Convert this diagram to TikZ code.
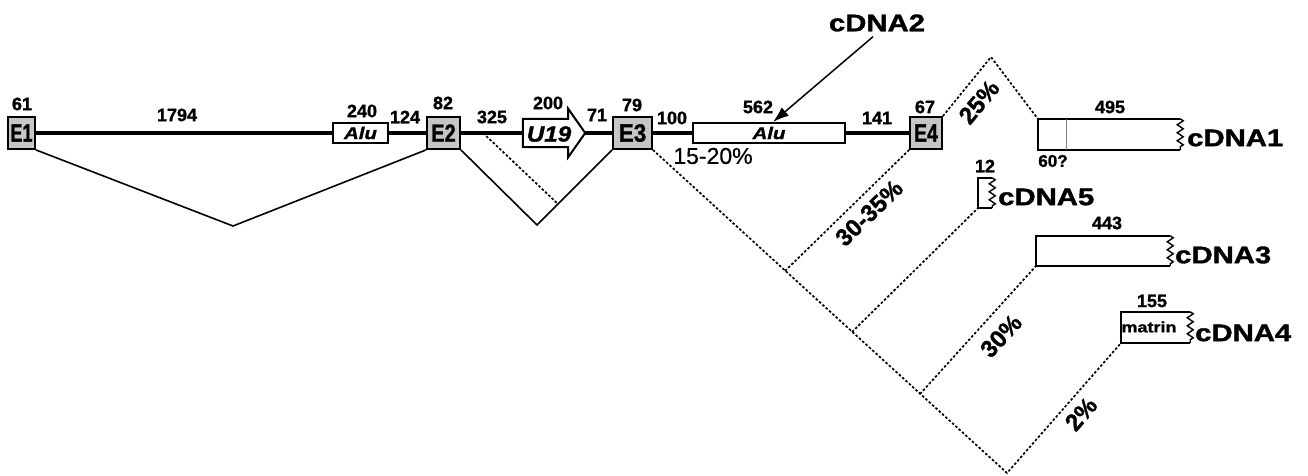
\documentclass[tikz,border=0pt]{standalone}
\usepackage{fontspec}
\setmainfont{Liberation Sans}[BoldFeatures={FakeBold=1.3},BoldItalicFeatures={FakeBold=1.3},UprightFeatures={FakeBold=0.5}]
\usetikzlibrary{arrows.meta,decorations.pathmorphing,calc}
\tikzset{
  num/.style={font=\fontsize{18}{18}\selectfont\bfseries, inner sep=0pt},
  exon/.style={draw, line width=1.8pt, fill=gray!45, inner sep=0pt, font=\fontsize{25}{25}\selectfont\bfseries},
  ibox/.style={draw, line width=2pt, fill=white, inner sep=0pt},
  cbox/.style={draw=none, inner sep=0pt},
  intron/.style={line width=4pt},
  splice/.style={line width=1.6pt},
  dots/.style={line width=1.7pt, dash pattern=on 2.5pt off 2pt},
  big/.style={font=\fontsize{24}{24}\selectfont\bfseries, inner sep=0pt},
  pct/.style={font=\fontsize{24}{24}\selectfont\bfseries, inner sep=0pt},
  jag/.style={decorate, decoration={zigzag, segment length=8pt, amplitude=3pt}, line width=1.4pt},
}
\newcommand\jagbox[1]{%
  \draw[line width=2pt] (#1.north east) -- (#1.north west) -- (#1.south west) -- (#1.south east);
  \draw[jag] (#1.north east) -- (#1.south east);}
\newcommand\widetext[2]{\scalebox{#1}[1]{#2}}
\begin{document}
\begin{tikzpicture}[x=1pt,y=-1pt]
\useasboundingbox[fill=white] (0,0) rectangle (1308,476);

% gene boxes
\node[exon, minimum width=27, minimum height=32] (E1) at (21.5,133) {\widetext{0.72}{E1}};
\node[ibox, minimum width=55, minimum height=20, font=\fontsize{17}{17}\selectfont\bfseries\itshape] (alu1) at (360.5,133) {\widetext{1.2}{Alu}};
\node[exon, minimum width=33, minimum height=32] (E2) at (443.5,133) {\widetext{0.8}{E2}};
\node[cbox, minimum width=62, minimum height=28] (u19) at (554,133) {};
\node[exon, minimum width=39, minimum height=32] (E3) at (632.5,133) {\widetext{0.9}{E3}};
\node[ibox, minimum width=152, minimum height=20, font=\fontsize{17}{17}\selectfont\bfseries\itshape] (alu2) at (769,133) {\widetext{1.2}{Alu}};
\node[exon, minimum width=32, minimum height=32] (E4) at (926,133) {\widetext{0.78}{E4}};

% intron line
\draw[intron] (E1.east) -- (alu1.west);
\draw[intron] (alu1.east) -- (E2.west);
\draw[intron] (E2.east) -- (u19.west);
\draw[intron] (u19.east) -- (E3.west);
\draw[intron] (E3.east) -- (alu2.west);
\draw[intron] (alu2.east) -- (E4.west);

% U19 arrow
\draw[line width=2pt, fill=white, line join=miter]
  (u19.north west) -- ($(u19.north east)+(-17,0)$) -- ++(0,-10) -- (u19.east)
  -- ($(u19.south east)+(-17,10)$) -- ++(0,-10) -- (u19.south west) -- cycle;
\node[font=\fontsize{22}{22}\selectfont\bfseries\itshape, inner sep=0pt] (u19t) at (549,134) {\widetext{1.1}{U19}};

% splicing lines
\coordinate (v1) at (233,226);
\coordinate (v2) at (537,225);
\draw[splice] (E1.south east) -- (v1) -- (E2.south west);
\draw[splice] (E2.south east) -- (v2) -- (E3.south west);
\coordinate (d0) at (483,133);
\coordinate (d1) at (558,204);
\draw[dots] (d0) -- (d1);

% cDNA boxes
\node[cbox, minimum width=142, minimum height=31] (c1) at (1109,134.5) {};
\jagbox{c1}
\draw[gray, line width=1pt] ($(c1.north west)+(29,0)$) -- ($(c1.south west)+(29,0)$);
\node[cbox, minimum width=14, minimum height=30] (c5) at (985,193) {};
\jagbox{c5}
\node[cbox, minimum width=134, minimum height=30] (c3) at (1103,251) {};
\jagbox{c3}
\node[cbox, minimum width=69, minimum height=31] (c4) at (1155.5,327.5) {};
\jagbox{c4}
\node[font=\fontsize{15}{15}\selectfont\bfseries, inner sep=0pt] (matrin) at (1149,327) {\widetext{1.2}{matrin}};

% dotted splice paths
\coordinate (peak) at (991,57);
\coordinate (b1) at (785,271);
\coordinate (b2) at (852,332);
\coordinate (b3) at (920,394);
\coordinate (bot) at (1007,473);
\draw[dots] (E3.south east) -- (bot) -- (c4.south west);
\draw[dots] (b1) -- (E4.south west);
\draw[dots] (b2) -- (c5.south west);
\draw[dots] (b3) -- (c3.south west);
\draw[dots] (E4.north east) -- (peak) -- (c1.north west);

% percentages
\node[pct, rotate=50] (p25) at (979,102) {25\%};
\node[pct, rotate=44] (p3035) at (869,213) {30-35\%};
\node[pct, rotate=47] (p30) at (1001,336) {30\%};
\node[pct, rotate=49] (p2) at (1081,414) {2\%};
\node[font=\fontsize{23}{23}\selectfont, inner sep=0pt] (p1520) at (713,156) {15-20\%};

% numbers
\node[num] (n61) at (22,104) {61};
\node[num] (n1794) at (177,115) {1794};
\node[num] (n240) at (362,111) {240};
\node[num] (n124) at (405,117) {124};
\node[num] (n82) at (443,103) {82};
\node[num] (n325) at (492,117) {325};
\node[num] (n200) at (548,103) {200};
\node[num] (n71) at (597,115) {71};
\node[num] (n79) at (632,105) {79};
\node[num] (n100) at (672,118) {100};
\node[num] (n562) at (758,107) {562};
\node[num] (n141) at (877,118) {141};
\node[num] (n67) at (925,107) {67};
\node[num] (n495) at (1110,107) {495};
\node[num, font=\fontsize{17}{17}\selectfont\bfseries] (n60) at (1053,161) {60?};
\node[num] (n12) at (985,166) {12};
\node[num] (n443) at (1107,223) {443};
\node[num] (n155) at (1152,301) {155};

% cDNA labels
\node[big] (cdna2) at (877,23) {\widetext{1.22}{cDNA2}};
\node[big, anchor=west] (cdna1) at (1187,138) {\widetext{1.22}{cDNA1}};
\node[big, anchor=west] (cdna5) at (998,197) {\widetext{1.22}{cDNA5}};
\node[big, anchor=west] (cdna3) at (1175,255) {\widetext{1.22}{cDNA3}};
\node[big, anchor=west] (cdna4) at (1195,333) {\widetext{1.22}{cDNA4}};

\draw[line width=1.5pt, -{Latex[length=16pt,width=11pt]}] ([xshift=-4pt,yshift=-5pt]cdna2.south) -- ([xshift=4pt]alu2.north);
\end{tikzpicture}
\end{document}
